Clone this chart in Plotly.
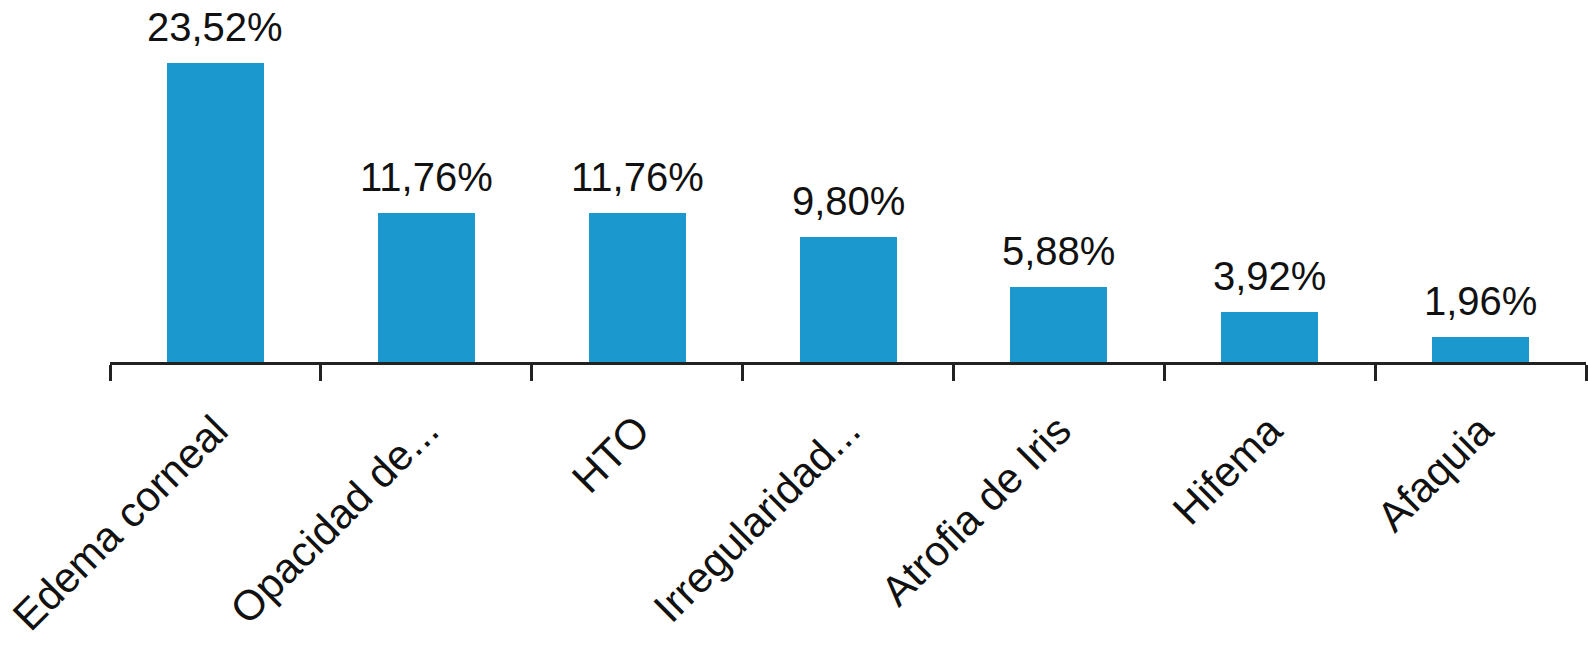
import plotly.graph_objects as go

categories = ["Edema corneal", "Opacidad de...", "HTO", "Irregularidad...", "Atrofia de Iris", "Hifema", "Afaquia"]
values = [23.52, 11.76, 11.76, 9.80, 5.88, 3.92, 1.96]
labels = ["23,52%", "11,76%", "11,76%", "9,80%", "5,88%", "3,92%", "1,96%"]

BAR_COLOR = "#1B98CD"
AXIS_COLOR = "#222222"
FONT = "Liberation Sans, Arial, Helvetica, sans-serif"

fig = go.Figure()
fig.add_trace(go.Bar(
    x=categories, y=values,
    marker=dict(color=BAR_COLOR, line=dict(width=0)),
    width=0.46,
    hoverinfo="skip",
))

for c, v, t in zip(categories, values, labels):
    fig.add_annotation(
        x=c, y=v, text=t, showarrow=False,
        yanchor="bottom", yshift=12,
        font=dict(family=FONT, size=40, color="#111111"),
    )

fig.update_layout(
    width=1588, height=645,
    margin=dict(l=110, r=2, t=20, b=283),
    paper_bgcolor="white", plot_bgcolor="white",
    showlegend=False,
    bargap=0,
    xaxis=dict(
        automargin=False,
        tickson="boundaries", ticks="outside", ticklen=16, tickwidth=3,
        tickcolor=AXIS_COLOR, showline=True, linewidth=3, linecolor=AXIS_COLOR,
        tickangle=-45, tickfont=dict(family=FONT, size=42, color="#111111"),
        ticklabelstandoff=24,
        showgrid=False, zeroline=False,
    ),
    yaxis=dict(
        automargin=False,
        range=[0, 23.52 * 342 / 299], visible=False, showgrid=False, zeroline=False,
    ),
)

fig.write_html(
    "out.html",
    config={"displayModeBar": False},
    post_script="document.body.style.margin='0';document.body.style.overflow='hidden';",
)
